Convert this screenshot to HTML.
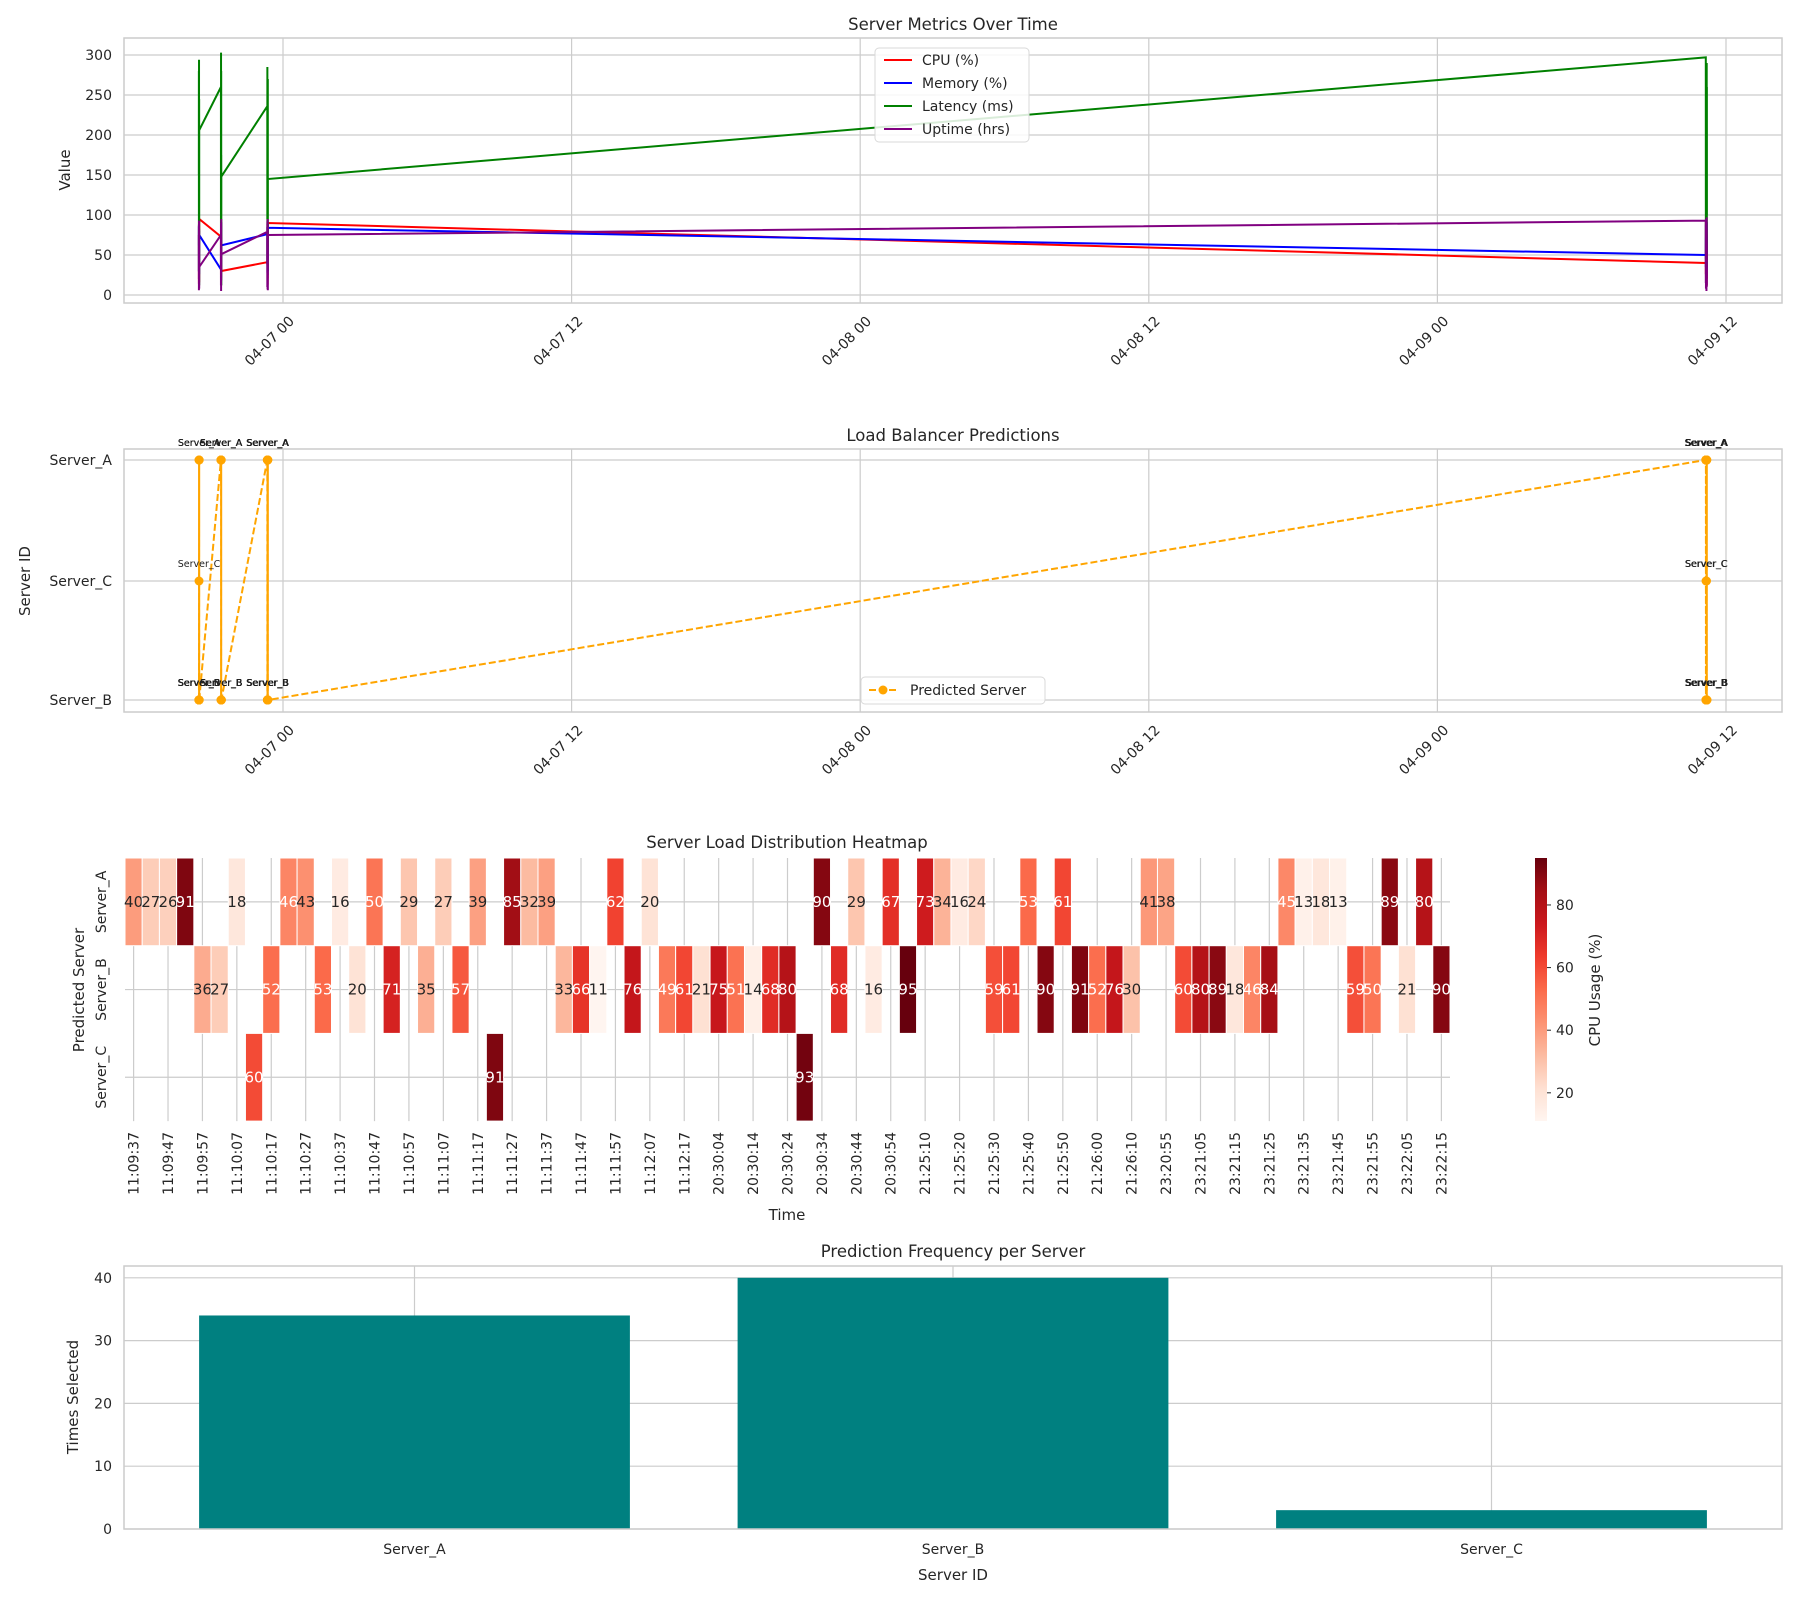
<!DOCTYPE html>
<html><head><meta charset="utf-8"><style>
body{margin:0;background:#fff;}
svg{display:block;font-family:"DejaVu Sans","Liberation Sans",sans-serif;}
</style></head><body>
<svg id="fig" width="1800" height="1600" viewBox="0 0 1800 1600" xmlns="http://www.w3.org/2000/svg"></svg>
<script>
// ---------- DATA ----------
const groupDates = ['2025-04-09','2025-04-06','2025-04-06','2025-04-06'];
const groupStarts = ['11:09:37','20:30:04','21:25:10','23:20:50'];
const groupCounts = [34,12,13,18];
const serverSeq = "AAAABBACBAABABABABABACAAABBBABABBBBBBBBCABABABAAAABBABABBBBAABBBBBBAAAABBABAB";
const cpuVals = [40,27,26,91,36,27,18,60,52,46,43,53,16,20,50,71,29,35,27,57,39,91,85,32,39,33,66,11,62,76,20,49,61,21,75,51,14,68,80,93,90,68,29,16,67,95,73,34,16,24,59,61,53,90,61,91,52,76,30,41,38,60,80,89,18,46,84,45,13,18,13,59,50,89,21,80,90];
const memVals = [50,72,35,88,41,63,27,90,55,38,66,81,22,47,93,59,31,70,44,85,28,61,77,39,52,68,24,83,46,91,57,33,74,49,62,86,29,71,40,95,53,37,80,26,64,75,32,58,88,43,69,21,77,50,34,91,45,66,62,76,39,85,55,28,72,48,93,36,60,81,25,67,44,89,53,30,84];
const latVals = [297,120,45,268,190,15,230,85,155,275,60,210,140,25,250,175,95,285,40,200,130,270,70,180,20,240,110,290,55,165,215,35,260,100,150,280,30,220,90,294,60,185,125,245,12,206,260,75,200,303,140,20,230,105,280,50,175,12,148,236,95,285,40,190,130,265,18,210,80,155,245,30,180,120,270,60,145];
const upVals = [93,15,60,85,30,8,72,45,95,22,55,80,12,67,38,90,25,50,75,5,62,88,33,18,70,42,97,10,58,83,27,65,40,12,20,88,6,62,45,93,15,70,30,82,8,35,75,12,90,40,65,5,85,28,55,95,18,70,51,79,10,60,92,35,20,88,48,7,72,55,95,15,65,40,85,6,75];
const serverNames = ['Server_A','Server_B','Server_C'];
const freqVals = [34,40,3];
const topTicks = [0,50,100,150,200,250,300];
const dateTicks = ['04-07 00','04-07 12','04-08 00','04-08 12','04-09 00','04-09 12'];
const cbarTicks = [20,40,60,80];
const barTicks = [0,10,20,30,40];

// ---------- helpers ----------
const NS="http://www.w3.org/2000/svg";
const svg=document.getElementById('fig');
function el(tag,attrs,parent,text){const e=document.createElementNS(NS,tag);for(const k in attrs)e.setAttribute(k,attrs[k]);if(text!==undefined)e.textContent=text;(parent||svg).appendChild(e);return e;}
const GRID='#cccccc', TXT='#262626';

const times=[];
groupStarts.forEach((s,g)=>{const [h,m,sec]=s.split(':').map(Number);let t=h*3600+m*60+sec;
  for(let i=0;i<groupCounts[g];i++){const tt=t+i*5;const hh=Math.floor(tt/3600),mm=Math.floor(tt%3600/60),ss=tt%60;
    times.push({date:groupDates[g],label:String(hh).padStart(2,'0')+':'+String(mm).padStart(2,'0')+':'+String(ss).padStart(2,'0'),sec:tt});}});
function hoursFrom(t){const day=parseInt(t.date.slice(8,10));return (day-7)*24+t.sec/3600;}
const order=times.map((t,i)=>i).sort((a,b)=>hoursFrom(times[a])-hoursFrom(times[b]));
const X=h=>283+h*24.05;
const AX_L=124, AX_R=1782;

// ---------- TOP CHART ----------
const g1=el('g',{});
const Y1=v=>295-0.8*v;
const t1=el('text',{x:953,y:30,'text-anchor':'middle','font-size':16.5,fill:TXT},g1,'Server Metrics Over Time');

topTicks.forEach(v=>{el('line',{x1:AX_L,x2:AX_R,y1:Y1(v),y2:Y1(v),stroke:GRID,'stroke-width':1.2},g1);
  const tl=el('text',{x:AX_L-12,y:Y1(v)+5,'text-anchor':'end','font-size':14,fill:TXT},g1,String(v));
  });
dateTicks.forEach((d,i)=>{const x=X(i*12);el('line',{x1:x,x2:x,y1:38,y2:303,stroke:GRID,'stroke-width':1.2},g1);
  const tx=x+12,ty=322;
  const tl=el('text',{x:tx,y:ty,'text-anchor':'end','font-size':14,fill:TXT,transform:`rotate(-45 ${tx} ${ty})`},g1,d);
  });
el('rect',{x:AX_L,y:38,width:AX_R-AX_L,height:265,fill:'none',stroke:GRID,'stroke-width':1.5},g1);
const yl1=el('text',{x:70,y:170,'text-anchor':'middle','font-size':15,fill:TXT,transform:'rotate(-90 70 170)'},g1,'Value');

const seriesList=[[cpuVals,'red','CPU (%)','cpu-line'],[memVals,'blue','Memory (%)','memory-line'],[latVals,'green','Latency (ms)','latency-line'],[upVals,'purple','Uptime (hrs)','uptime-line']];
seriesList.forEach(([vals,col,lab,nm])=>{
  const pts=order.map(i=>X(hoursFrom(times[i])).toFixed(2)+','+Y1(vals[i]).toFixed(2)).join(' ');
  const p=el('polyline',{points:pts,fill:'none',stroke:col,'stroke-width':2},g1);
  });
const lg=el('g',{},g1);
el('rect',{x:875,y:48,width:154,height:94,fill:'#fff','fill-opacity':0.85,stroke:'#d9d9d9',rx:4},lg);
seriesList.forEach(([v,col,lab],i)=>{const y=60+i*23;
  el('line',{x1:884,x2:912,y1:y,y2:y,stroke:col,'stroke-width':2},lg);
  const le=el('text',{x:922,y:y+5,'font-size':14,fill:TXT},lg,lab);
  });

// ---------- MIDDLE CHART ----------
const g2=el('g',{});
const Ypos={Server_A:460,Server_C:581,Server_B:700};
const t2=el('text',{x:953,y:441,'text-anchor':'middle','font-size':16.5,fill:TXT},g2,'Load Balancer Predictions');

['Server_A','Server_C','Server_B'].forEach(s=>{el('line',{x1:AX_L,x2:AX_R,y1:Ypos[s],y2:Ypos[s],stroke:GRID,'stroke-width':1.2},g2);
  const tl=el('text',{x:AX_L-12,y:Ypos[s]+5,'text-anchor':'end','font-size':14,fill:TXT},g2,s);
  });
dateTicks.forEach((d,i)=>{const x=X(i*12);el('line',{x1:x,x2:x,y1:449,y2:712,stroke:GRID,'stroke-width':1.2},g2);
  const tx=x+12,ty=731;
  const tl=el('text',{x:tx,y:ty,'text-anchor':'end','font-size':14,fill:TXT,transform:`rotate(-45 ${tx} ${ty})`},g2,d);
  });
el('rect',{x:AX_L,y:449,width:AX_R-AX_L,height:263,fill:'none',stroke:GRID,'stroke-width':1.5},g2);
const yl2=el('text',{x:30,y:581,'text-anchor':'middle','font-size':15,fill:TXT,transform:'rotate(-90 30 581)'},g2,'Server ID');

const srvOf=i=>'Server_'+serverSeq[i];
const pl=el('polyline',{points:order.map(i=>X(hoursFrom(times[i])).toFixed(2)+','+Ypos[srvOf(i)]).join(' '),fill:'none',stroke:'orange','stroke-width':2,'stroke-dasharray':'7,3'},g2);

order.forEach(i=>{const x=X(hoursFrom(times[i])),y=Ypos[srvOf(i)];
  const c=el('circle',{cx:x,cy:y,r:4.5,fill:'orange'},g2);
  
  const tx=el('text',{x:x,y:y-14,'text-anchor':'middle','font-size':9.5,fill:'#222'},g2,srvOf(i));
  });
const lg2=el('g',{},g2);
el('rect',{x:861,y:677,width:184,height:27,fill:'#fff','fill-opacity':0.85,stroke:'#d9d9d9',rx:4},lg2);
el('line',{x1:869,x2:897,y1:690,y2:690,stroke:'orange','stroke-width':2,'stroke-dasharray':'7,3'},lg2);
el('circle',{cx:883,cy:690,r:4.5,fill:'orange'},lg2);
el('text',{x:910,y:695,'font-size':14,fill:TXT},lg2,'Predicted Server');

// ---------- HEATMAP ----------
const g3=el('g',{});
const HL=125,HT=858,CW=(1450-125)/77,RH=87.7,VMIN=11,VMAX=95;
const stops=['#fff5f0','#fee0d2','#fcbba1','#fc9272','#fb6a4a','#ef3b2c','#cb181d','#a50f15','#67000d'];
function hx(h){return [1,3,5].map(k=>parseInt(h.slice(k,k+2),16));}
function reds(v){let t=Math.max(0,Math.min(1,(v-VMIN)/(VMAX-VMIN)))*8;const i=Math.min(7,Math.floor(t)),f=t-i;const a=hx(stops[i]),b=hx(stops[i+1]);
  return 'rgb('+a.map((c,k)=>Math.round(c+(b[k]-c)*f)).join(',')+')';}
const t3=el('text',{x:787,y:848,'text-anchor':'middle','font-size':16.5,fill:TXT},g3,'Server Load Distribution Heatmap');

serverNames.forEach((s,r)=>{const y=HT+RH*(r+0.5);el('line',{x1:HL,x2:1450,y1:y,y2:y,stroke:GRID,'stroke-width':1.2},g3);
  const tl=el('text',{x:106,y:y,'text-anchor':'middle','font-size':14,fill:TXT,transform:`rotate(-90 106 ${y})`},g3,s);
  });
times.forEach((t,c)=>{if(c%2)return;const x=HL+CW*(c+0.5);
  el('line',{x1:x,x2:x,y1:HT,y2:HT+3*RH,stroke:GRID,'stroke-width':1.2},g3);
  const tl=el('text',{x:x+5,y:1132,'text-anchor':'end','font-size':14,fill:TXT,transform:`rotate(-90 ${x+5} 1132)`},g3,t.label);
  });
times.forEach((t,c)=>{const r=serverNames.indexOf(srvOf(c));const x=HL+CW*c,y=HT+RH*r;
  const rc=el('rect',{x:x,y:y,width:CW,height:RH,fill:reds(cpuVals[c]),stroke:'#fff','stroke-width':1},g3);
  
  const tx=el('text',{x:x+CW/2,y:y+RH/2+5,'text-anchor':'middle','font-size':15,fill:cpuVals[c]>=45?'#fff':TXT},g3,String(cpuVals[c]));
  });
const xl3=el('text',{x:787,y:1220,'text-anchor':'middle','font-size':15,fill:TXT},g3,'Time');

const yl3=el('text',{x:84,y:990,'text-anchor':'middle','font-size':15,fill:TXT,transform:'rotate(-90 84 990)'},g3,'Predicted Server');

const cb=el('g',{},g3);
const defs=el('defs',{});const lgr=el('linearGradient',{id:'redsg',x1:0,y1:1,x2:0,y2:0},defs);
stops.forEach((s,i)=>el('stop',{offset:(i/8),'stop-color':s},lgr));
const CBT=858,CBB=1121,CY=v=>CBB-(v-VMIN)/(VMAX-VMIN)*(CBB-CBT);
el('rect',{x:1535,y:CBT,width:12,height:CBB-CBT,fill:'url(#redsg)'},cb);
cbarTicks.forEach(v=>{el('line',{x1:1547,x2:1551,y1:CY(v),y2:CY(v),stroke:TXT},cb);
  const tl=el('text',{x:1556,y:CY(v)+5,'font-size':14,fill:TXT},cb,String(v));
  });
el('text',{x:1600,y:990,'text-anchor':'middle','font-size':15,fill:TXT,transform:'rotate(-90 1600 990)'},cb,'CPU Usage (%)');

// ---------- BAR CHART ----------
const g4=el('g',{});
const BT=1266,BB=1529,Y4=v=>BB-v*6.28,X4=i=>953+(i-1)*538.5;
const t4=el('text',{x:953,y:1257,'text-anchor':'middle','font-size':16.5,fill:TXT},g4,'Prediction Frequency per Server');

barTicks.forEach(v=>{el('line',{x1:AX_L,x2:AX_R,y1:Y4(v),y2:Y4(v),stroke:GRID,'stroke-width':1.2},g4);
  const tl=el('text',{x:AX_L-12,y:Y4(v)+5,'text-anchor':'end','font-size':14,fill:TXT},g4,String(v));
  });
serverNames.forEach((s,i)=>{el('line',{x1:X4(i),x2:X4(i),y1:BT,y2:BB,stroke:GRID,'stroke-width':1.2},g4);});
serverNames.forEach((s,i)=>{const w=538.5*0.8;
  const b=el('rect',{x:X4(i)-w/2,y:Y4(freqVals[i]),width:w,height:BB-Y4(freqVals[i]),fill:'#008080'},g4);
  
  const tl=el('text',{x:X4(i),y:1554,'text-anchor':'middle','font-size':14,fill:TXT},g4,s);
  });
el('rect',{x:AX_L,y:BT,width:AX_R-AX_L,height:BB-BT,fill:'none',stroke:GRID,'stroke-width':1.5},g4);
const xl4=el('text',{x:953,y:1580,'text-anchor':'middle','font-size':15,fill:TXT},g4,'Server ID');

const yl4=el('text',{x:78,y:1397,'text-anchor':'middle','font-size':15,fill:TXT,transform:'rotate(-90 78 1397)'},g4,'Times Selected');

</script>
</body></html>
